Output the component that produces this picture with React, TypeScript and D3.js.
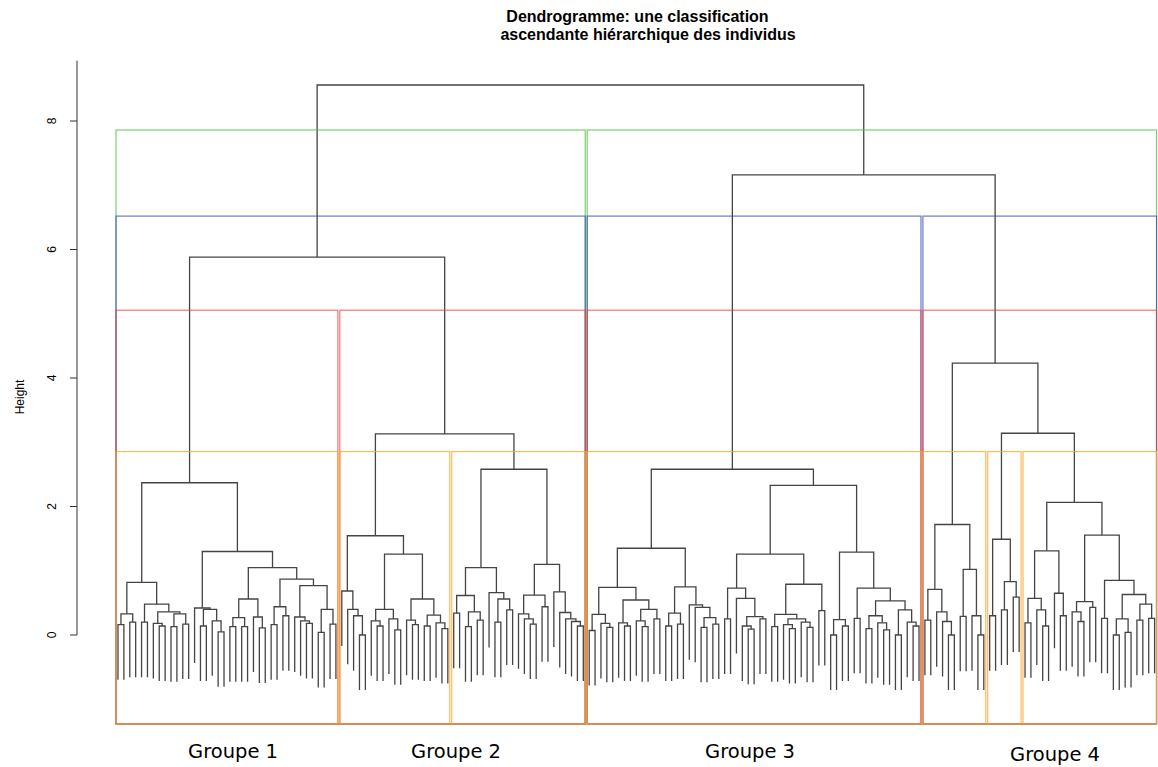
import React from "react";
import * as d3 from "d3";

// a leaf of the tree
const _ = 0;

// each cluster as nested [height, left, right]
const group1 = [2.37,
  [0.82,
    [0.33, [0.16, _, _], [0.2, _, _]],
    [0.48, [0.2, _, _], [0.36, [0.18, _, [0.14, _, _]], [0.33, [0.13, _, _], [0.17, _, _]]]]],
  [1.3,
    [0.42, _, [0.4, [0.14, _, _], [0.22, _, [0.05, _, _]]]],
    [1.05,
      [0.56, [0.27, [0.13, _, _], [0.13, _, _]], [0.28, _, [0.11, _, _]]],
      [0.87,
        [0.44, [0.16, _, _], [0.3, _, _]],
        [0.77, [0.28, _, [0.22, _, [0.18, _, _]]], [0.4, [0.04, _, _], [0.17, _, _]]]]]]];

const group2 = [1.545,
  [0.685, _, [0.4, _, [0.3, _, [0.0, _, _]]]],
  [1.26,
    [0.4, [0.22, _, [0.14, _, _]], [0.25, _, [0.08, _, _]]],
    [0.56, [0.23, _, [0.16, _, _]], [0.31, [0.14, _, _], [0.19, _, [0.1, _, _]]]]]];

const group3 = [2.58,
  [1.05,
    [0.615, [0.34, _, _], [0.36, [0.13, _, _], [0.23, _, _]]],
    [0.66, _, [0.56, [0.2, _, _], [0.39, _, _]]]],
  [1.1,
    [0.62, [0.33, _, [0.25, _, [0.17, _, _]]], [0.44, _, _]],
    [0.67, _, [0.35, _, [0.25, _, [0.21, _, [0.14, _, _]]]]]]];

const group4 = [2.58,
  [1.35,
    [0.74,
      [0.32, [0.07, _, _], [0.18, _, [0.12, _, _]]],
      [0.545, [0.19, _, [0.14, _, _]], [0.4, [0.22, _, [0.13, _, _]], [0.25, _, _]]]],
    [0.75,
      [0.34, [0.14, _, _], [0.17, _, _]],
      [0.47, _, [0.43, _, [0.27, [0.12, _, _], [0.17, _, _]]]]]],
  [2.33,
    [1.26,
      [0.73, [0.25, _, _], [0.57, _, [0.285, [0.14, _, [0.09, _, _]], [0.25, _, _]]]],
      [0.79,
        [0.32, [0.13, _, _], [0.25, [0.16, _, [0.1, _, _]], [0.2, _, [0.12, _, _]]]],
        [0.38, _, _]]],
    [1.29,
      [0.24, [0.0, _, _], [0.14, _, _]],
      [0.73,
        [0.26, _, _],
        [0.53,
          [0.3, [0.1, _, _], [0.19, _, [0.08, _, _]]],
          [0.39, [0.0, _, _], [0.2, _, [0.14, _, _]]]]]]]];

const group5 = [1.72,
  [0.71, [0.23, _, _], [0.36, _, [0.21, _, [0.0, _, _]]]],
  [1.02, [0.29, _, _], [0.3, _, [0.0, _, _]]]];

const group6 = [1.49, [0.3, _, _], [0.83, [0.39, _, _], [0.59, _, _]]];

const group7 = [2.065,
  [1.31, [0.57, [0.19, _, _], [0.39, _, [0.14, _, _]]], [0.65, _, [0.3, _, _]]],
  [1.556,
    [0.52, [0.36, _, [0.21, _, _]], [0.43, _, _]],
    [0.85, [0.26, _, _], [0.63, [0.25, [0.0, _, _], [0.04, _, _]], [0.48, [0.23, _, _], [0.26, _, _]]]]]];

// merges above the clusters
const hRoot = 8.56, hLeft = 5.88, hG23 = 3.13, hRight = 7.16, hG567 = 4.23, hG67 = 3.14;

const tree = [hRoot,
  [hLeft, group1, [hG23, group2, group3]],
  [hRight, group4, [hG567, group5, [hG67, group6, group7]]]];

const yTicks = [0, 2, 4, 6, 8];
const cuts = [2, 3, 4, 7];
const cutColors = ["#4cbb3a", "#3048b8", "#f04040", "#ffa830"];
const cutOpacity = [0.72, 0.72, 0.72, 0.8];
const groupLabels = ["Groupe 1", "Groupe 2", "Groupe 3", "Groupe 4"];

// layout
const labelX = [233, 456, 750, 1055];
const labelY = [758, 758, 758, 761];

type N = any;

function maxH(n: N): number {
  return n === 0 ? -Infinity : Math.max(n[0], maxH(n[1]), maxH(n[2]));
}
function minH(n: N): number {
  return n === 0 ? Infinity : Math.min(n[0], minH(n[1]), minH(n[2]));
}

function build(root: N) {
  const hang = 0.1 * (maxH(root) - minH(root));
  let count = 0;
  const segs: any[] = [];
  const heights: number[] = [];
  const visit = (n: N): any => {
    if (n === 0) {
      count++;
      return { leaf: true, x: count, first: count, last: count };
    }
    const h = n[0];
    heights.push(h);
    const a = visit(n[1]);
    const b = visit(n[2]);
    segs.push({
      x1: a.x, x2: b.x, h,
      h1: a.leaf ? h - hang : a.h,
      h2: b.leaf ? h - hang : b.h,
    });
    return { leaf: false, h, x: (a.x + b.x) / 2, first: a.first, last: b.last, kids: [a, b] };
  };
  const top = visit(root);
  heights.sort((p, q) => q - p);
  return { top, segs, heights, n: count };
}

function clusters(node: any, cut: number, out: any[]) {
  if (node.leaf || node.h < cut) out.push([node.first, node.last]);
  else node.kids.forEach((k: any) => clusters(k, cut, out));
  return out;
}

export default function App() {
  const { top, segs, heights, n } = build(tree);
  const xScale = d3.scaleLinear().domain([1, n]).range([118, 1154.6]);
  const yScale = d3.scaleLinear().domain([0, 8]).range([635, 121]);
  const plotBottom = -1.385;
  const axisTop = 8.94;

  const rects = cuts.map((k, ci) => {
    const cut = (heights[k - 2] + heights[k - 1]) / 2;
    return clusters(top, cut, []).map(([f, l]: number[], i: number) => (
      <rect
        key={`${k}-${i}`}
        x={xScale(f - 1 + 0.66)}
        y={yScale(cut)}
        width={xScale(l + 0.33) - xScale(f - 1 + 0.66)}
        height={yScale(plotBottom) - yScale(cut)}
        fill="none"
        stroke={cutColors[ci]}
        strokeOpacity={cutOpacity[ci]}
        strokeWidth={1.2}
      />
    ));
  });

  const branches = segs.map((s, i) => (
    <path
      key={i}
      d={`M${xScale(s.x1)},${yScale(s.h1)}V${yScale(s.h)}H${xScale(s.x2)}V${yScale(s.h2)}`}
      fill="none"
      stroke="#444"
      strokeWidth={1.3}
    />
  ));

  return (
    <svg width={1158} height={767} style={{ position: "absolute", left: 0, top: 0, background: "#fff" }}>
      <g fontFamily="'Liberation Sans', Arial, sans-serif" fontWeight="bold" fontSize={16} textAnchor="middle" fill="#000">
        <text x={637.5} y={22}>Dendrogramme: une classification</text>
        <text x={648} y={40}>ascendante hiérarchique des individus</text>
      </g>

      {branches}
      {rects}

      <g stroke="#333" strokeWidth={1}>
        <line x1={77} x2={77} y1={yScale(0)} y2={yScale(axisTop)} />
        {yTicks.map((t) => (
          <line key={t} x1={70} x2={77} y1={yScale(t)} y2={yScale(t)} />
        ))}
      </g>
      <g fontFamily="'Liberation Sans', Arial, sans-serif" fontSize={12} textAnchor="middle" fill="#000">
        {yTicks.map((t) => (
          <text key={t} transform={`translate(55.5,${yScale(t)}) rotate(-90)`}>{t}</text>
        ))}
        <text transform={`translate(24,397) rotate(-90)`}>Height</text>
      </g>

      <g fontFamily="'DejaVu Sans', Verdana, sans-serif" fontSize={19.5} textAnchor="middle" fill="#000">
        {groupLabels.map((g, i) => (
          <text key={g} x={labelX[i]} y={labelY[i]}>{g}</text>
        ))}
      </g>
    </svg>
  );
}
